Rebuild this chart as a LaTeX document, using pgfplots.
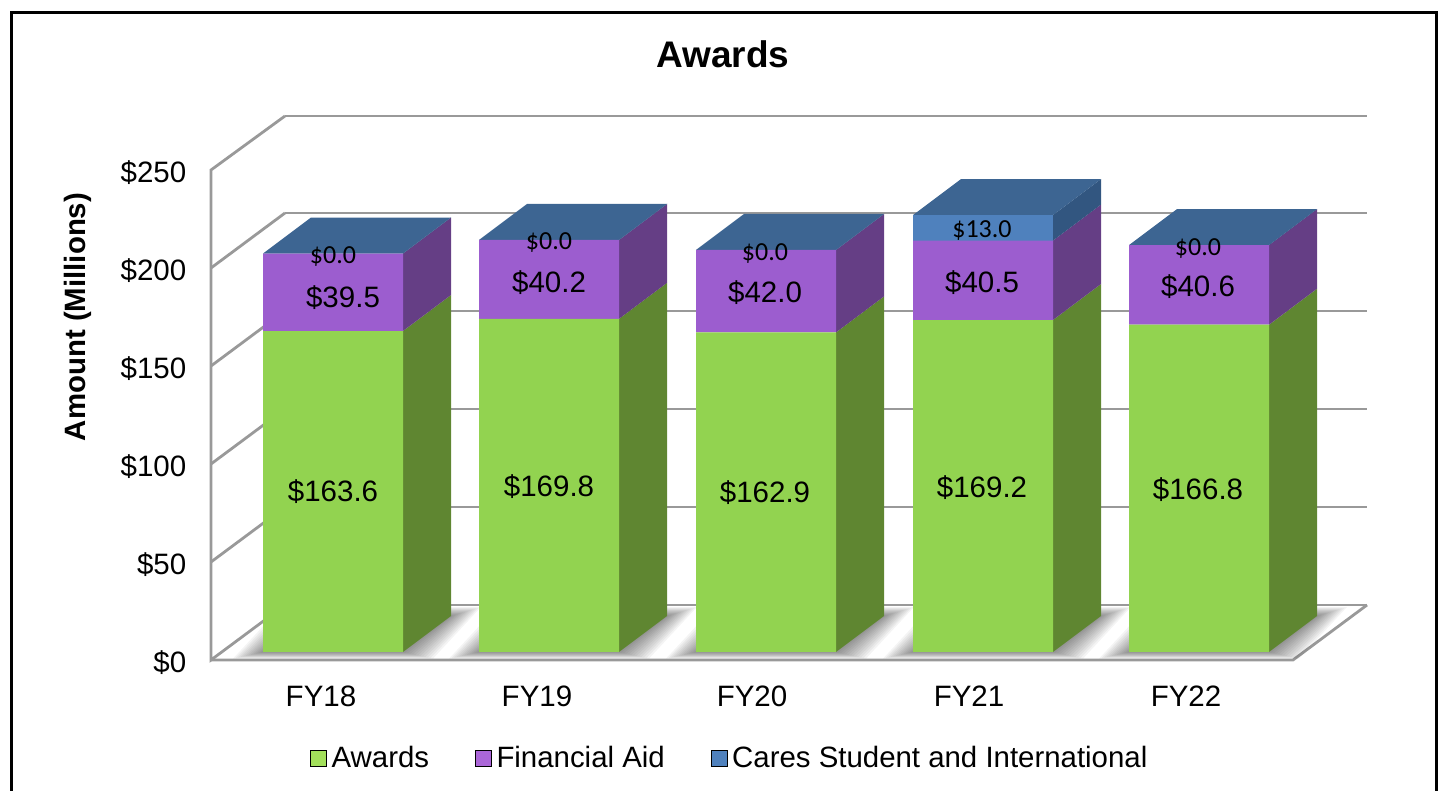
\documentclass[border=0pt]{standalone}
\usepackage{fontspec}
\setmainfont{Liberation Sans}
\newfontfamily\calib{Carlito}
\usepackage{pgfplots}
\pgfplotsset{compat=1.18}
\definecolor{wall}{HTML}{999999}
\definecolor{gfront}{HTML}{92D350}
\definecolor{pfront}{HTML}{9C5DCF}
\definecolor{bfront}{HTML}{4F81BD}
\definecolor{gside}{HTML}{5F8631}
\definecolor{pside}{HTML}{653E85}
\definecolor{bside}{HTML}{325680}
\definecolor{btop}{HTML}{3D6592}
\pgfplotsset{
  canvas/.style={at={(0pt,0pt)},anchor=south west,scale only axis,width=1438pt,height=791pt,hide axis,xmin=0,xmax=1438},
  px/.style={canvas,ymin=0,ymax=791,y dir=reverse,clip=false,no markers},
}
\pgfplotstableread{
x     awards aid  cares
333   163.6  39.5 0.0
549   169.8  40.2 0.0
766   162.9  42.0 0.0
983   169.2  40.5 13.0
1199  166.8  40.6 0.0
}\awardsdata
% wall line in pixel coordinates
\newcommand\wallline[1]{\addplot[wall,line width=2.8pt,line join=miter] coordinates {#1};}
% one layer of the blurred floor shadow: #1 left edge, #2 widening
\newcommand\shadowlayer[2]{%
  \pgfmathsetmacro\sa{#1-#2}\pgfmathsetmacro\sb{#1+140+#2}%
  \pgfmathsetmacro\sc{#1+188+#2}\pgfmathsetmacro\sd{#1+48-#2}%
  \pgfmathsetmacro\se{652+#2*0.22}\pgfmathsetmacro\sf{616-#2*0.3}%
  \addplot[draw=none,fill=black,fill opacity=0.045] coordinates {(\sa,\se)(\sb,\se)(\sc,\sf)(\sd,\sf)} --cycle;}
\newcommand\shadow[1]{\shadowlayer{#1}{30}\shadowlayer{#1}{27.5}\shadowlayer{#1}{25}\shadowlayer{#1}{22.5}\shadowlayer{#1}{20}\shadowlayer{#1}{17.5}\shadowlayer{#1}{15}\shadowlayer{#1}{12.5}\shadowlayer{#1}{10}\shadowlayer{#1}{7.5}\shadowlayer{#1}{5}\shadowlayer{#1}{2.5}}
% side and top faces of one stacked bar: #1 left edge, #2 #3 #4 values
\newcommand\barback[4]{%
  \pgfmathsetmacro\R{#1+140}\pgfmathsetmacro\Rb{#1+188}\pgfmathsetmacro\Lb{#1+48}%
  \pgfmathsetmacro\ya{652}\pgfmathsetmacro\yb{652-1.962*(#2)}%
  \pgfmathsetmacro\yc{652-1.962*(#2+#3)}\pgfmathsetmacro\yd{652-1.962*(#2+#3+#4)}%
  \pgfmathsetmacro\yab{\ya-36}\pgfmathsetmacro\ybb{\yb-36}\pgfmathsetmacro\ycb{\yc-36}\pgfmathsetmacro\ydb{\yd-36}%
  \addplot[draw=none,fill=gside] coordinates {(\R,\ya)(\Rb,\yab)(\Rb,\ybb)(\R,\yb)} --cycle;
  \addplot[draw=none,fill=pside] coordinates {(\R,\yb)(\Rb,\ybb)(\Rb,\ycb)(\R,\yc)} --cycle;
  \addplot[draw=none,fill=bside] coordinates {(\R,\yc)(\Rb,\ycb)(\Rb,\ydb)(\R,\yd)} --cycle;
  \addplot[draw=none,fill=btop] coordinates {(#1,\yd)(\Lb,\ydb)(\Rb,\ydb)(\R,\yd)} --cycle;}
\newcommand\biglab[3]{\node[font=\fontsize{29.5}{29.5}\selectfont,inner sep=0pt] at (axis cs:#1,#2) {\$#3};}
\newcommand\smalllab[3]{\node[font=\fontsize{26}{26}\selectfont\calib,inner sep=0pt] at (axis cs:#1,#2) {\$#3};}
\begin{document}
\begin{tikzpicture}
\useasboundingbox (0pt,0pt) rectangle (1438pt,791pt);
% walls, floor, shadows, side and top faces (pixel coordinates of the drawing)
\begin{axis}[px]
\addplot[black,line width=2.5pt,line join=miter] coordinates {(11.5,791)(11.5,12.5)(1436.5,12.5)(1436.5,791)};
\wallline{(285,605)(1367,605)}
\wallline{(285,507)(1367,507)}
\wallline{(285,409)(1367,409)}
\wallline{(285,311)(1367,311)}
\wallline{(285,213)(1367,213)}
\wallline{(285,116)(1367,116)}
\wallline{(211,562)(285,507)}
\wallline{(211,464)(285,409)}
\wallline{(211,366)(285,311)}
\wallline{(211,268)(285,213)}
\wallline{(285,116)(211,170)(211,660)(285,605)}
\wallline{(211,660)(1293,660)(1367,605)}
\shadow{263}\shadow{479}\shadow{696}\shadow{913}\shadow{1129}
\barback{263}{163.6}{39.5}{0.0}
\barback{479}{169.8}{40.2}{0.0}
\barback{696}{162.9}{42.0}{0.0}
\barback{913}{169.2}{40.5}{13.0}
\barback{1129}{166.8}{40.6}{0.0}
\end{axis}
% front faces: stacked bars, 1.962 px per $ million, base at pixel row 652
\begin{axis}[canvas,ybar stacked,bar width=140pt,ymin=-70.846,ymax=332.31,
  legend columns=3,
  legend style={draw=none,fill=none,inner sep=0pt,anchor=west,
    at={(310/1438,33/791)},font=\fontsize{29.4}{29.4}\selectfont,
    nodes={inner sep=0pt,anchor=west},
    /tikz/every even column/.style={column sep=46pt}},
  legend image code/.code={\fill[#1] (0pt,-8pt) rectangle (16pt,8pt); \path (21pt,0pt);}]
\addplot[fill=gfront,draw=none,forget plot] table[x=x,y=awards] {\awardsdata};
\addplot[fill=pfront,draw=none,forget plot] table[x=x,y=aid] {\awardsdata};
\addplot[fill=bfront,draw=none,forget plot] table[x=x,y=cares] {\awardsdata};
\addlegendimage{fill={rgb,255:red,163;green,224;blue,91}}
\addlegendentry{Awards}
\addlegendimage{fill={rgb,255:red,171;green,102;blue,216}}
\addlegendentry{Financial Aid}
\addlegendimage{fill=bfront}
\addlegendentry{Cares Student and International}
\end{axis}
% value and category scales, title
\begin{axis}[at={(210pt,131pt)},anchor=south west,scale only axis,width=1083pt,height=490pt,
  xmin=210,xmax=1293,ymin=0,ymax=250,
  axis line style={draw=none},major tick length=0pt,tick style={draw=none},
  xtick={321,537,752,969,1186},xticklabels={FY18,FY19,FY20,FY21,FY22},
  ytick={0,50,100,150,200,250},yticklabels={\$0,\$50,\$100,\$150,\$200,\$250},
  typeset ticklabels with strut,
  xticklabel style={anchor=center,yshift=-41pt,font=\fontsize{29.5}{29.5}\selectfont},
  yticklabel style={anchor=east,inner sep=0pt,xshift=-23.5pt,yshift=-6.5pt,font=\fontsize{29.5}{29.5}\selectfont},
  title={Awards},title style={at={(0.4737,1.2347)},anchor=center,inner sep=0pt,yshift=-5pt,font=\bfseries\fontsize{37}{37}\selectfont},
  ylabel={Amount (Millions)},ylabel style={at={(-0.122,0.7)},anchor=center,inner sep=0pt,rotate=0,font=\bfseries\fontsize{29.4}{30}\selectfont}]
\end{axis}
% data labels
\begin{axis}[px]
\biglab{333}{492}{163.6}\biglab{343}{298}{39.5}\smalllab{333}{256.5}{0.0}
\biglab{549}{487}{169.8}\biglab{549}{283}{40.2}\smalllab{549}{242.5}{0.0}
\biglab{765}{493}{162.9}\biglab{765}{293}{42.0}\smalllab{765}{253.5}{0.0}
\biglab{982}{488}{169.2}\biglab{982}{283}{40.5}\smalllab{982}{230.5}{13.0}
\biglab{1198}{490}{166.8}\biglab{1198}{287}{40.6}\smalllab{1198}{248.5}{0.0}
\end{axis}
\end{tikzpicture}
\end{document}
